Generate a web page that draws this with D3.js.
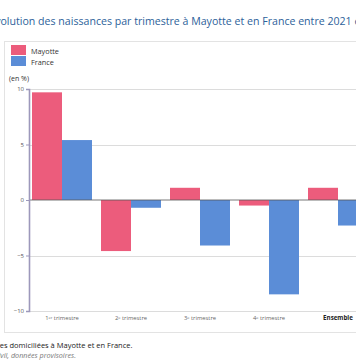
<!DOCTYPE html>
<html><head><meta charset="utf-8">
<script src="https://cdn.jsdelivr.net/npm/d3@7"></script>
<style>body{margin:0;background:#fff;overflow:hidden}svg{display:block;font-family:"Open Sans",sans-serif}</style>
</head><body><svg width="356" height="364"></svg>
<script>
const categories = ["1er trimestre","2e trimestre","3e trimestre","4e trimestre","Ensemble"];
const catMain = ["1","2","3","4","Ensemble"];
const catSup = ["er","e","e","e",""];
const series = ["Mayotte","France"];
const mayotte = [9.7,-4.6,1.1,-0.5,1.1];
const france = [5.4,-0.7,-4.1,-8.5,-2.3];
const yTicks = [10,5,0,-5,-10];
const colors = ["#ec5c7c","#5b8dd7"];

const svg = d3.select("svg");
// title
const title = svg.append("text").attr("y",24.5).attr("font-size",10.6).attr("fill","#2d5f9a");
const hidden = title.append("tspan").text("Év");
title.append("tspan").text("olution des naissances par trimestre à Mayotte et en France entre 2021 et 2022");
const hw = hidden.node().getComputedTextLength();
title.attr("x",-hw+0.5);

// frame
svg.append("rect").attr("x",4.5).attr("y",41.5).attr("width",400).attr("height",291)
  .attr("fill","none").attr("stroke","#e3e3e3");

// legend
series.forEach((s,i)=>{
  svg.append("rect").attr("x",11).attr("y",45+i*11).attr("width",15).attr("height",10).attr("fill",colors[i]);
  svg.append("text").attr("x",31).attr("y",53.5+i*11).attr("font-size",7.3).attr("fill","#333").text(s);
});
svg.append("text").attr("x",9).attr("y",81).attr("font-size",7).attr("fill","#333").text("(en %)");

const y = d3.scaleLinear().domain([-10,10]).range([311,89]);
const xs = d3.scaleBand().domain(categories).range([27.5,27.5+69*5]).padding(0);
const x1 = d3.scaleBand().domain(series).range([0,60]);

// gridlines
svg.append("g").selectAll("line").data(yTicks.filter(d=>d!==0)).join("line")
  .attr("x1",29).attr("x2",356).attr("y1",d=>Math.round(y(d))+0.5).attr("y2",d=>Math.round(y(d))+0.5)
  .attr("stroke","#dcdcdc").attr("stroke-width",1);

// bars
const data = categories.map((c,i)=>({c, vals:[mayotte[i],france[i]]}));
const g = svg.append("g");
data.forEach(d=>{
  d.vals.forEach((v,j)=>{
    g.append("rect").attr("x",xs(d.c)+4.5+x1(series[j])).attr("width",x1.bandwidth())
      .attr("y",y(Math.max(0,v))).attr("height",Math.abs(y(v)-y(0))).attr("fill",colors[j]);
  });
});
// zero line
svg.append("line").attr("x1",29).attr("x2",356).attr("y1",y(0)).attr("y2",y(0)).attr("stroke","#555").attr("stroke-width",0.8);

// y axis
const yAxis = d3.axisLeft(y).tickValues(yTicks).tickSize(3).tickFormat(d3.format("d"));
const ya = svg.append("g").attr("transform","translate(29,0)").call(yAxis);
ya.select(".domain").attr("stroke","#9d98bb").attr("stroke-width",1.6);
ya.selectAll(".tick line").attr("stroke","#9d98bb");
ya.selectAll(".tick text").attr("font-size",6).attr("fill","#555").attr("font-family","Open Sans").attr("x",-5);

// x labels
categories.forEach((c,i)=>{
  const t = svg.append("text").attr("x",xs(c)+4.5+30).attr("y",320).attr("text-anchor","middle")
    .attr("font-size",i===4?6.2:5.8).attr("fill",i===4?"#222":"#666").attr("font-weight",i===4?"bold":"normal");
  t.append("tspan").text(catMain[i]);
  if(catSup[i]) t.append("tspan").attr("font-size",4).attr("dy",-1.5).text(catSup[i]);
  if(i<4){ t.append("tspan").attr("dy",catSup[i]?1.5:0).text(" trimestre"); }
});

// footer
svg.append("text").attr("x",132.5).attr("y",348).attr("text-anchor","end").attr("font-size",7.5).attr("fill","#222")
  .text("Champ : naissances de mères domiciliées à Mayotte et en France.");
svg.append("text").attr("x",76).attr("y",358).attr("text-anchor","end").attr("font-size",7.2).attr("fill","#777").attr("font-style","italic")
  .text("Source : Insee, état civil, données provisoires.");
</script></body></html>
